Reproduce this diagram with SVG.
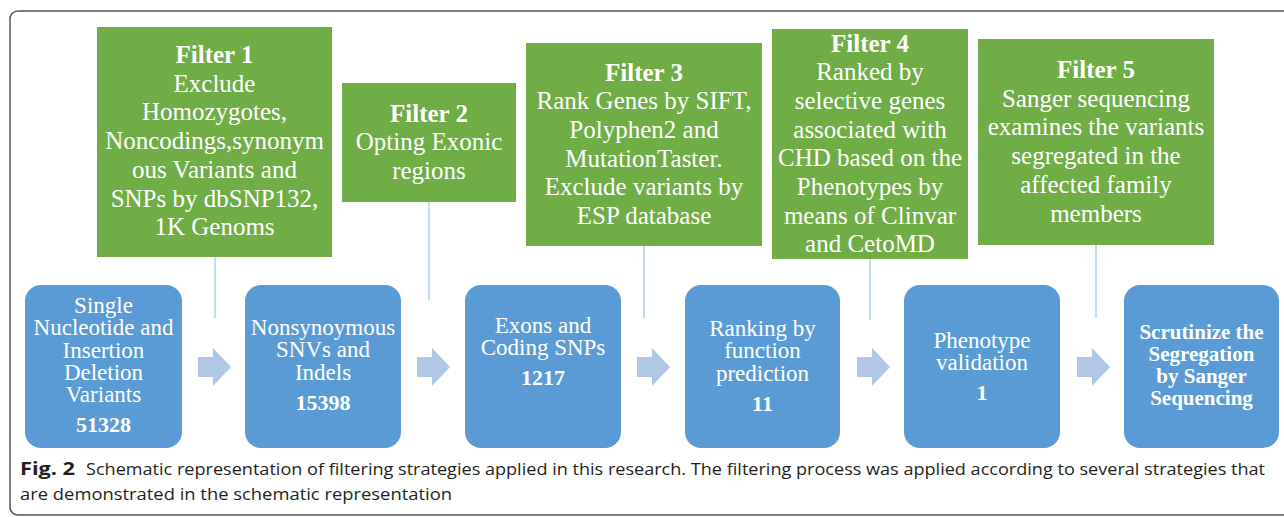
<svg xmlns="http://www.w3.org/2000/svg" width="1284" height="517" viewBox="0 0 1284 517">
<style>
.frame{fill:none;stroke:#555;stroke-width:1.5}
.g{fill:#70AD47}
.b{fill:#5B9BD5}
.gt{font-family:'Liberation Serif',Tinos,'DejaVu Serif',serif;font-size:25px;fill:#fff;text-anchor:middle}
.bt{font-family:'Liberation Serif',Tinos,'DejaVu Serif',serif;font-size:23px;fill:#fff;text-anchor:middle}
.bold{font-weight:bold}
.num{font-weight:bold;font-size:22px}
.conn line{stroke:#9DC3E6;stroke-width:1.2}
.arr{fill:#B0C7E6}
.cap{font-family:'Open Sans','Noto Sans',sans-serif;font-size:17px;fill:#231F20}
</style>
<defs>
<path id="arrow" d="M0,357 H15 V348 L33,367 L15,386 V377 H0 Z"/>
</defs>
<rect width="1284" height="517" fill="#fff"/>
<path class="frame" d="M1295,11 H18 A8,8 0 0 0 10,19 V507 A8,8 0 0 0 18,515 H1295"/>

<g id="connectors" class="conn">
<line x1="215" y1="257" x2="215" y2="318"/>
<line x1="429" y1="202" x2="429" y2="300"/>
<line x1="644" y1="246" x2="644" y2="318"/>
<line x1="870" y1="259" x2="870" y2="320"/>
<line x1="1096" y1="245" x2="1096" y2="318"/>
<use href="#arrow" class="arr" x="198"/>
<use href="#arrow" class="arr" x="417"/>
<use href="#arrow" class="arr" x="637"/>
<use href="#arrow" class="arr" x="857"/>
<use href="#arrow" class="arr" x="1077"/>
</g>

<g id="filter1">
<rect class="g" x="97" y="27" width="235" height="230"/>
<text class="gt"><tspan class="bold" x="214.5" y="63">Filter 1</tspan><tspan x="214.5" dy="28.7">Exclude</tspan><tspan x="214.5" dy="28.7">Homozygotes,</tspan><tspan x="214.5" dy="28.7">Noncodings,synonym</tspan><tspan x="214.5" dy="28.7">ous Variants and</tspan><tspan x="214.5" dy="28.7">SNPs by dbSNP132,</tspan><tspan x="214.5" dy="28.7">1K Genoms</tspan></text>
</g>
<g id="filter2">
<rect class="g" x="342" y="83" width="174" height="119"/>
<text class="gt"><tspan class="bold" x="429" y="121.5">Filter 2</tspan><tspan x="429" dy="28.7">Opting Exonic</tspan><tspan x="429" dy="28.7">regions</tspan></text>
</g>
<g id="filter3">
<rect class="g" x="526" y="43" width="236" height="203"/>
<text class="gt"><tspan class="bold" x="644" y="80.5">Filter 3</tspan><tspan x="644" dy="28.7">Rank Genes by SIFT,</tspan><tspan x="644" dy="28.7">Polyphen2 and</tspan><tspan x="644" dy="28.7">MutationTaster.</tspan><tspan x="644" dy="28.7">Exclude variants by</tspan><tspan x="644" dy="28.7">ESP database</tspan></text>
</g>
<g id="filter4">
<rect class="g" x="772" y="29" width="196" height="230"/>
<text class="gt"><tspan class="bold" x="870" y="51.5">Filter 4</tspan><tspan x="870" dy="28.7">Ranked by</tspan><tspan x="870" dy="28.7">selective genes</tspan><tspan x="870" dy="28.7">associated with</tspan><tspan x="870" dy="28.7">CHD based on the</tspan><tspan x="870" dy="28.7">Phenotypes by</tspan><tspan x="870" dy="28.7">means of Clinvar</tspan><tspan x="870" dy="28.7">and CetoMD</tspan></text>
</g>
<g id="filter5">
<rect class="g" x="978" y="39" width="236" height="206"/>
<text class="gt"><tspan class="bold" x="1096" y="78">Filter 5</tspan><tspan x="1096" dy="28.7">Sanger sequencing</tspan><tspan x="1096" dy="28.7">examines the variants</tspan><tspan x="1096" dy="28.7">segregated in the</tspan><tspan x="1096" dy="28.7">affected family</tspan><tspan x="1096" dy="28.7">members</tspan></text>
</g>

<g id="step1">
<rect class="b" x="25" y="285" width="157" height="163" rx="16"/>
<text class="bt"><tspan x="103.5" y="313">Single</tspan><tspan x="103.5" dy="22.3">Nucleotide and</tspan><tspan x="103.5" dy="22.3">Insertion</tspan><tspan x="103.5" dy="22.3">Deletion</tspan><tspan x="103.5" dy="22.3">Variants</tspan><tspan class="num" x="103.5" dy="30">51328</tspan></text>
</g>
<g id="step2">
<rect class="b" x="245" y="285" width="156" height="163" rx="16"/>
<text class="bt"><tspan x="323" y="335">Nonsynoymous</tspan><tspan x="323" dy="22.3">SNVs and</tspan><tspan x="323" dy="22.3">Indels</tspan><tspan class="num" x="323" dy="30">15398</tspan></text>
</g>
<g id="step3">
<rect class="b" x="465" y="285" width="156" height="163" rx="16"/>
<text class="bt"><tspan x="543" y="333">Exons and</tspan><tspan x="543" dy="22.3">Coding SNPs</tspan><tspan class="num" x="543" dy="30">1217</tspan></text>
</g>
<g id="step4">
<rect class="b" x="685" y="285" width="155" height="163" rx="16"/>
<text class="bt"><tspan x="762.5" y="336">Ranking by</tspan><tspan x="762.5" dy="22.3">function</tspan><tspan x="762.5" dy="22.3">prediction</tspan><tspan class="num" x="762.5" dy="30">11</tspan></text>
</g>
<g id="step5">
<rect class="b" x="904" y="285" width="156" height="163" rx="16"/>
<text class="bt"><tspan x="982" y="348">Phenotype</tspan><tspan x="982" dy="22.3">validation</tspan><tspan class="num" x="982" dy="30">1</tspan></text>
</g>
<g id="step6">
<rect class="b" x="1124" y="285" width="155" height="163" rx="16"/>
<text class="bt bold" style="font-size:21px"><tspan x="1201.5" y="339">Scrutinize the</tspan><tspan x="1201.5" dy="22">Segregation</tspan><tspan x="1201.5" dy="22">by Sanger</tspan><tspan x="1201.5" dy="22">Sequencing</tspan></text>
</g>

<g id="caption">
<text class="cap" x="20" y="475" font-weight="bold" font-size="18" textLength="55" lengthAdjust="spacingAndGlyphs">Fig. 2</text>
<text class="cap" x="86" y="475" textLength="1179" lengthAdjust="spacingAndGlyphs">Schematic representation of filtering strategies applied in this research. The filtering process was applied according to several strategies that</text>
<text class="cap" x="20" y="500" textLength="432" lengthAdjust="spacingAndGlyphs">are demonstrated in the schematic representation</text>
</g>
</svg>
